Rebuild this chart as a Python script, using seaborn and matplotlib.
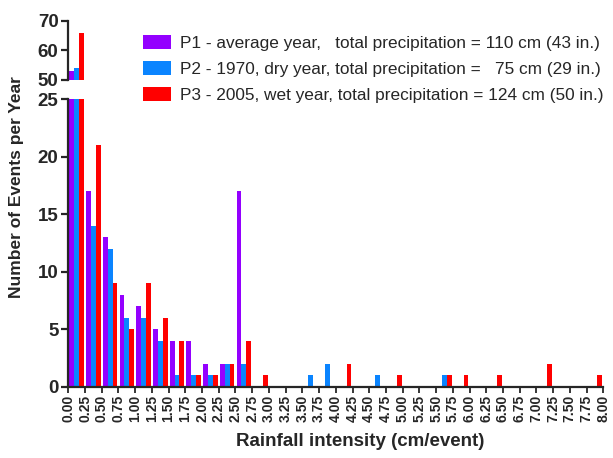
import numpy as np
import pandas as pd
import matplotlib
matplotlib.use("Agg")
import matplotlib.pyplot as plt
from matplotlib.patches import Patch
import seaborn as sns

# ---- data ----
tick_labels = [f"{v:.2f}" for v in np.arange(0, 8.001, 0.25)]  # 0.00 ... 8.00 (bin edges)
bins = tick_labels[:-1]  # bin left edges, 32 bins
series = ["P1", "P2", "P3"]
p1 = [53, 17, 13, 8, 7, 5, 4, 4, 2, 2, 17, 0, 0, 0, 0, 0,
      0, 0, 0, 0, 0, 0, 0, 0, 0, 0, 0, 0, 0, 0, 0, 0]
p2 = [54, 14, 12, 6, 6, 4, 1, 1, 1, 2, 2, 0, 0, 0, 1, 2,
      0, 0, 1, 0, 0, 0, 1, 0, 0, 0, 0, 0, 0, 0, 0, 0]
p3 = [66, 21, 9, 5, 9, 6, 4, 1, 1, 2, 4, 1, 0, 0, 0, 0,
      2, 0, 0, 1, 0, 0, 1, 1, 0, 1, 0, 0, 2, 0, 0, 1]
legend_labels = [
    "P1 - average year,   total precipitation = 110 cm (43 in.)",
    "P2 - 1970, dry year, total precipitation =   75 cm (29 in.)",
    "P3 - 2005, wet year, total precipitation = 124 cm (50 in.)",
]
colors = ["#9400FF", "#0A84FF", "#FF0000"]

df = pd.DataFrame({
    "bin": bins * 3,
    "series": sum([[s] * len(bins) for s in series], []),
    "value": p1 + p2 + p3,
})

sns.set_style("ticks")
plt.rcParams["font.family"] = ["Liberation Sans", "DejaVu Sans"]

W, H = 613, 458
fig = plt.figure(figsize=(W / 100, H / 100), dpi=100)
left, right = 68.3 / W, 603.3 / W
ax_top = fig.add_axes([left, 1 - 80 / H, right - left, (80 - 20.7) / H])
ax_bot = fig.add_axes([left, 1 - 386.7 / H, right - left, (386.7 - 99) / H])

for ax in (ax_top, ax_bot):
    sns.barplot(data=df, x="bin", y="value", hue="series", hue_order=series,
                order=bins, palette=colors, width=0.87, gap=0, linewidth=0,
                saturation=1, legend=False, ax=ax)
    ax.set_xlim(-0.5, len(bins) - 0.5)
    ax.set_xlabel("")
    ax.set_ylabel("")
    for s in ["top", "right"]:
        ax.spines[s].set_visible(False)
    ax.spines["left"].set_linewidth(1.6)
    ax.spines["bottom"].set_linewidth(1.6)
    ax.tick_params(axis="y", labelsize=13.5, width=1.6, length=5, pad=2)

ax_top.set_ylim(50, 70)
ax_top.set_yticks([50, 60, 70])
ax_top.spines["bottom"].set_visible(False)
ax_top.tick_params(axis="x", bottom=False, labelbottom=False)
for t in ax_top.get_yticklabels():
    t.set_fontweight("bold")

ax_bot.set_ylim(0, 25)
ax_bot.set_yticks([0, 5, 10, 15, 20, 25])
for t in ax_bot.get_yticklabels():
    t.set_fontweight("bold")
ax_bot.set_xticks(np.arange(len(tick_labels)) - 0.5)
ax_bot.set_xticklabels(tick_labels, rotation=90, fontsize=10, fontweight="bold")
ax_bot.tick_params(axis="x", width=1.3, length=4, pad=2)

fig.text(17 / W, 1 - 187 / H, "Number of Events per Year", rotation=90,
         ha="center", va="center", fontsize=12.5, fontweight="bold")
fig.text(360 / W, 1 - 441 / H, "Rainfall intensity (cm/event)",
         ha="center", va="center", fontsize=13.5, fontweight="bold")

handles = [Patch(facecolor=c, edgecolor="none") for c in colors]
fig.legend(handles, legend_labels, loc="upper left",
           bbox_to_anchor=(143 / W, 1 - 35 / H), frameon=False,
           fontsize=12.4, handlelength=1.65, handleheight=0.9,
           handletextpad=0.5, labelspacing=0.58, borderaxespad=0,
           borderpad=0)

fig.savefig("out.png", dpi=100)
